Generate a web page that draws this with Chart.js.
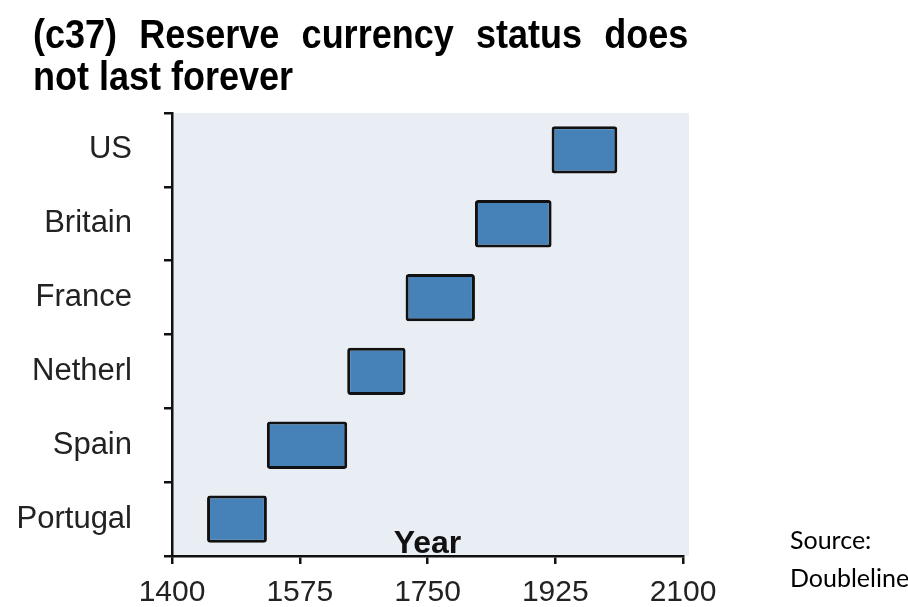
<!DOCTYPE html>
<html>
<head>
<meta charset="utf-8">
<script src="https://cdn.jsdelivr.net/npm/chart.js@4.4.1/dist/chart.umd.min.js"></script>
<style>
    html, body { margin: 0; padding: 0; background: #fff; }
    #wrap { position: relative; width: 908px; height: 607px; overflow: hidden; }
    #chart { position: absolute; left: 0; top: 0; }
    #title {
        position: absolute; left: 33px; top: 13px; width: 728px;
        font: bold 40px "Liberation Sans", Arial, sans-serif;
        line-height: 42px; text-align: justify; color: #000;
        transform: scaleX(0.9); transform-origin: left top;
    }
    #source {
        position: absolute; left: 790px; top: 520px;
        font: 25px Lato, "Open Sans", sans-serif; line-height: 38px; color: #000;
    }
</style>
</head>
<body>
<div id="wrap">
    <canvas id="chart" width="908" height="607"></canvas>
    <div id="title">(c37) Reserve currency status does not last forever</div>
    <div id="source">Source:<br>Doubleline</div>
</div>
<script>
// reserve currency periods
const countries = ['Portugal', 'Spain', 'Netherl', 'France', 'Britain', 'US'];
const startYears = [1448, 1530, 1640, 1720, 1815, 1920];
const endYears = [1530, 1640, 1720, 1815, 1920, 2010];
const yearTicks = [1400, 1575, 1750, 1925, 2100];

const FONT = '"Liberation Sans", Arial, sans-serif';

// light panel behind the plot + the "Year" label sitting on the axis
const panelPlugin = {
    id: 'panel',
    beforeDraw(chart) {
        const { ctx, chartArea: a } = chart;
        ctx.save();
        ctx.fillStyle = '#e9eef4';
        ctx.fillRect(a.left, a.top, a.right - a.left + 6, a.bottom - a.top);
        ctx.restore();
    },
    afterDraw(chart) {
        const { ctx, chartArea: a } = chart;
        ctx.save();
        ctx.fillStyle = '#111';
        ctx.font = 'bold 32px ' + FONT;
        ctx.textAlign = 'center';
        ctx.textBaseline = 'alphabetic';
        ctx.fillText('Year', (a.left + a.right) / 2, a.bottom - 3);
        ctx.restore();
    }
};

const ctx = document.getElementById('chart').getContext('2d');
new Chart(ctx, {
    type: 'bar',
    data: {
        labels: countries,
        datasets: [{
            data: countries.map((c, i) => [startYears[i], endYears[i]]),
            backgroundColor: '#4682b8',
            borderColor: '#111',
            borderWidth: 3,
            borderRadius: 3,
            borderSkipped: false,
            barPercentage: 0.64,
            categoryPercentage: 1
        }]
    },
    plugins: [panelPlugin],
    options: {
        indexAxis: 'y',
        responsive: false,
        animation: false,
        layout: { padding: { left: 12, top: 113, right: 225, bottom: 0 } },
        plugins: {
            legend: { display: false },
            tooltip: { enabled: false },
            title: { display: false }
        },
        scales: {
            x: {
                type: 'linear',
                min: 1400,
                max: 2100,
                afterBuildTicks: axis => { axis.ticks = yearTicks.map(v => ({ value: v })); },
                afterFit: s => { s.height = 51; },
                border: { display: true, color: '#111', width: 2.5 },
                grid: { drawOnChartArea: false, drawTicks: true, tickLength: 8, color: '#111', lineWidth: 2.5 },
                ticks: {
                    color: '#222', font: { family: FONT, size: 30 }, padding: 11, maxRotation: 0,
                    callback: v => String(v)
                }
            },
            y: {
                reverse: true,
                afterFit: s => { s.width = 160; },
                border: { display: true, color: '#111', width: 2.5 },
                grid: { offset: true, drawOnChartArea: false, drawTicks: true, tickLength: 8, color: '#111', lineWidth: 2.5 },
                ticks: { color: '#222', font: { family: FONT, size: 31 }, padding: 32 }
            }
        }
    }
});
</script>
</body>
</html>
